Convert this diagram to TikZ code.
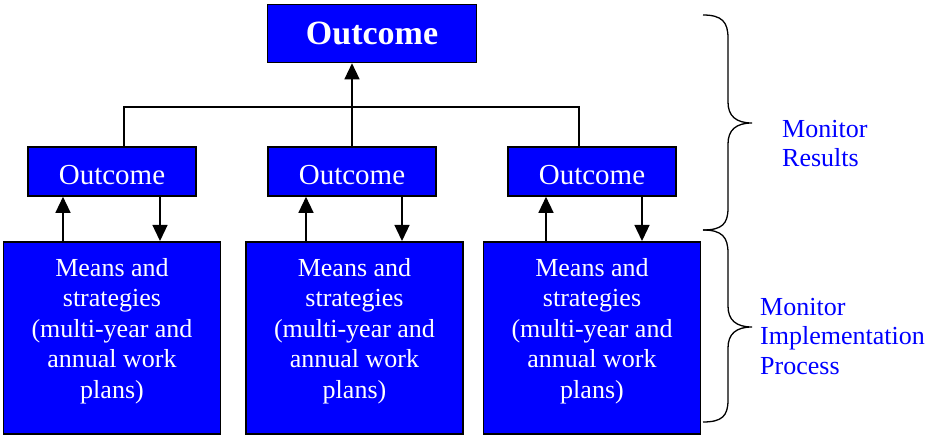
\documentclass[tikz,border=0pt]{standalone}
\usepackage{fontspec}
\setmainfont{Liberation Serif}
\usetikzlibrary{arrows.meta}
\definecolor{boxblue}{RGB}{0,0,255}
\tikzset{
  bluebox/.style={draw=black, line width=1.6pt, fill=boxblue, inner sep=0pt},
  boxtext/.style={text=white, inner sep=0pt},
  link/.style={draw=black, line width=1.3pt},
  flow/.style={link, -{Triangle[length=16pt,width=15pt]}},
  bracket/.style={draw=black, line width=1.3pt},
  lbl/.style={text=boxblue, font=\fontsize{26}{29.5}\selectfont, align=left, anchor=north west, inner sep=0pt}
}
\begin{document}
\begin{tikzpicture}[x=1pt, y=-1pt]
\useasboundingbox (0,0) rectangle (927,435);

% top level
\node[bluebox, minimum width=209pt, minimum height=58pt] (top) at (372,33.5) {};
\node[boxtext, font=\fontsize{34}{38}\selectfont\bfseries] (toptext) at (372,33.5) {Outcome};

% intermediate outcomes
\foreach \i/\x in {1/112, 2/352, 3/592}{
  \node[bluebox, minimum width=168pt, minimum height=49pt] (mid\i) at (\x,171.5) {};
  \node[boxtext, font=\fontsize{29}{33}\selectfont] (midtext\i) at (\x,175) {Outcome};
}

% means and strategies
\foreach \i/\x in {1/112, 2/354.5, 3/592}{
  \node[bluebox, minimum width=217pt, minimum height=192pt, anchor=north] (low\i) at (\x,241) {};
  \node[boxtext, font=\fontsize{26}{30.5}\selectfont, align=center, anchor=north] (lowtext\i) at (\x,258)
    {Means and\\strategies\\(multi-year and\\annual work\\plans)};
}

% joining lines between levels
\coordinate (jl) at (124,107);
\coordinate (jr) at (579,107);
\coordinate (jm) at (352,107);
\draw[link] (mid1.north -| jl) -- (jl) -- (jr) -- (mid3.north -| jr);
\draw[link] (mid2.north) -- (jm);
\draw[flow] (jm) -- (top.south -| jm);

% feedback arrows
\foreach \i/\u/\d in {1/63/160, 2/306/402, 3/546/642}{
  \draw[flow] (low\i.north -| \u,0) -- (mid\i.south -| \u,0);
  \draw[flow] (mid\i.south -| \d,0) -- (low\i.north -| \d,0);
}

% braces
\draw[bracket] (703,15) .. controls (722,15) and (728,22) .. (728,38)
  -- (728,102) .. controls (728,116) and (736,123) .. (752,123)
  .. controls (736,123) and (728,130) .. (728,144)
  -- (728,208) .. controls (728,224) and (722,230) .. (703,230);
\draw[bracket] (703,230) .. controls (722,230) and (728,237) .. (728,253)
  -- (728,306) .. controls (728,320) and (736,327) .. (752,327)
  .. controls (736,327) and (728,334) .. (728,348)
  -- (728,400) .. controls (728,416) and (722,422) .. (703,422);

% labels
\node[lbl] (res) at (782,120) {Monitor\\Results};
\node[lbl] (imp) at (760,298) {Monitor\\Implementation\\Process};
\end{tikzpicture}
\end{document}
